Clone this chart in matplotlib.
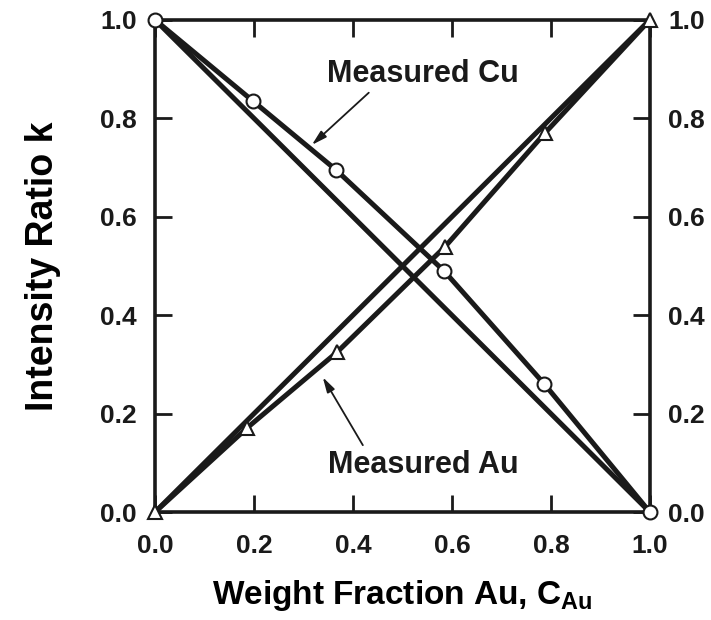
import matplotlib
matplotlib.use("Agg")
import matplotlib.pyplot as plt

plt.rcParams['font.family'] = ['Liberation Sans', 'DejaVu Sans']
plt.rcParams['font.weight'] = 'bold'
plt.rcParams['mathtext.fontset'] = 'custom'
plt.rcParams['mathtext.bf'] = 'Liberation Sans:bold'

c_au = [0.0, 0.198, 0.366, 0.584, 0.787, 1.0]
k_cu = [1.0, 0.835, 0.695, 0.49, 0.26, 0.0]
c_au_tri = [0.0, 0.186, 0.368, 0.586, 0.788, 1.0]
k_au = [0.0, 0.171, 0.325, 0.539, 0.77, 1.0]
# linear (ideal) lines
lin_x = [0.0, 1.0]
lin_cu = [1.0, 0.0]
lin_au = [0.0, 1.0]

ticks = [0.0, 0.2, 0.4, 0.6, 0.8, 1.0]
tick_labels = ['0.0', '0.2', '0.4', '0.6', '0.8', '1.0']

ink = '#1a1a1a'

fig = plt.figure(figsize=(7.11, 6.2), dpi=100)
ax = fig.add_axes([0.218, 0.174, 0.696, 0.794])

ax.plot(lin_x, lin_cu, color=ink, lw=3.6, solid_capstyle='round')
ax.plot(lin_x, lin_au, color=ink, lw=3.6, solid_capstyle='round')
ax.plot(c_au, k_cu, color=ink, lw=3.6, zorder=3)
ax.plot(c_au_tri, k_au, color=ink, lw=3.6, zorder=3)
ax.plot(c_au, k_cu, 'o', ms=10, mfc='white', mec=ink, mew=1.5,
        clip_on=False, zorder=5)
ax.plot(c_au_tri, k_au, '^', ms=10, mfc='white', mec=ink, mew=1.5,
        clip_on=False, zorder=5)

ax.set_xlim(0, 1)
ax.set_ylim(0, 1)
ax.set_xticks(ticks)
ax.set_yticks(ticks)
ax.set_xticklabels(tick_labels)
ax.set_yticklabels(tick_labels)
ax.tick_params(direction='in', length=12, width=2, top=True, right=True,
               labelright=True, labelsize=19, colors=ink)
ax.tick_params(axis='y', pad=13)
ax.tick_params(axis='x', pad=16)
for sp in ax.spines.values():
    sp.set_linewidth(2.6)
    sp.set_color(ink)

ax.set_ylabel('Intensity Ratio k', fontsize=27, fontweight='bold', labelpad=28)
ax.set_xlabel(r'Weight Fraction Au, C$_{\mathbf{Au}}$', fontsize=24,
              fontweight='bold', labelpad=14)

# labels with pointer arrows
ax.text(0.542, 0.89, 'Measured Cu', ha='center', va='center',
        fontsize=22, fontweight='bold', color=ink)
ax.annotate('', xy=(0.317, 0.746), xytext=(0.432, 0.852),
            arrowprops=dict(arrowstyle='-|>,head_length=0.9,head_width=0.25',
                            color=ink, lw=1.3, shrinkA=0, shrinkB=0))
ax.text(0.542, 0.096, 'Measured Au', ha='center', va='center',
        fontsize=22, fontweight='bold', color=ink)
ax.annotate('', xy=(0.339, 0.274), xytext=(0.42, 0.136),
            arrowprops=dict(arrowstyle='-|>,head_length=0.9,head_width=0.25',
                            color=ink, lw=1.3, shrinkA=0, shrinkB=0))

fig.savefig('out.png', dpi=100)
